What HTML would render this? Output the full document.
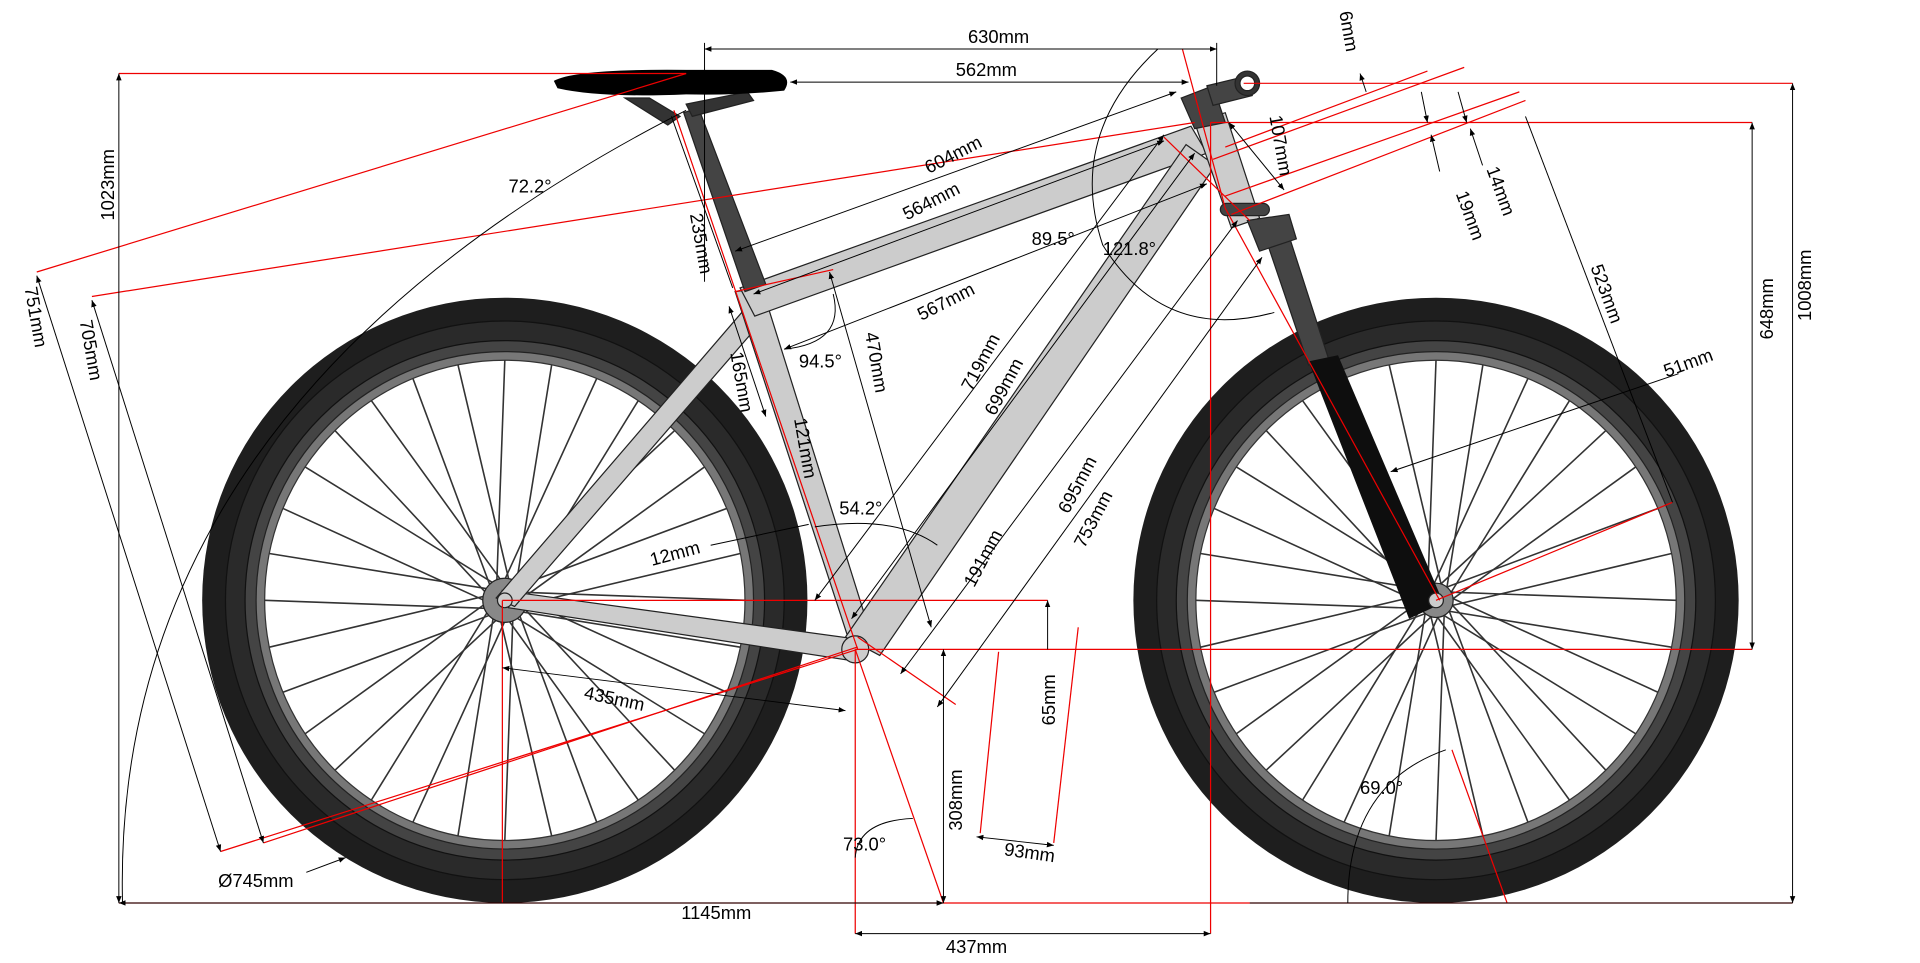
<!DOCTYPE html>
<html><head><meta charset="utf-8"><style>
html,body{margin:0;padding:0;background:#fff;overflow:hidden}
svg{display:block}
text{font-family:"Liberation Sans",sans-serif;font-size:15px;fill:#000}
</style></head><body>
<svg id="s" width="1920" height="963" viewBox="0 0 1567 786" preserveAspectRatio="none" xmlns="http://www.w3.org/2000/svg">
<defs>
<marker id="a" viewBox="0 0 10 10" refX="10" refY="5" markerWidth="7" markerHeight="7" orient="auto-start-reverse"><path d="M0,1 L10,5 L0,9z" fill="#000"/></marker>
</defs>
<g id="wheels">
<circle cx="412" cy="490" r="247" fill="#1e1e1e"/>
<circle cx="412" cy="490" r="228" fill="#2a2a2a" stroke="#111" stroke-width="1"/>
<circle cx="412" cy="490" r="212" fill="#444" stroke="#111"/>
<circle cx="412" cy="490" r="203" fill="#777" stroke="#222"/>
<circle cx="412" cy="490" r="196" fill="#fff" stroke="#333"/>
<circle cx="1172" cy="490" r="247" fill="#1e1e1e"/>
<circle cx="1172" cy="490" r="228" fill="#2a2a2a" stroke="#111" stroke-width="1"/>
<circle cx="1172" cy="490" r="212" fill="#444" stroke="#111"/>
<circle cx="1172" cy="490" r="203" fill="#777" stroke="#222"/>
<circle cx="1172" cy="490" r="196" fill="#fff" stroke="#333"/>
<g id="spokes" stroke="#333" stroke-width="1.3"></g>
<circle cx="412" cy="490" r="18" fill="#888" stroke="#222"/>
<circle cx="1172" cy="490" r="14" fill="#888" stroke="#222"/>
</g>
<g stroke="#222" stroke-width="1" fill="#ccc">
<polygon points="410,482 415,496 700,540 702,522"/>
<polygon points="405,488 420,495 622,262 608,252"/>
<polygon points="600,238 622,235 712,522 694,526"/>
<polygon points="604,235 616,258 985,125 972,103"/>
<polygon points="968,118 992,135 718,535 690,520"/>
<polygon points="975,100 1000,92 1028,178 1005,186"/>
</g>
<g stroke="#222" fill="#444">
<polygon points="558,92 570,88 625,232 608,238"/>
<polygon points="1028,180 1048,180 1085,295 1068,298"/>
<polygon points="1018,180 1052,175 1058,195 1028,205"/>
<rect x="996" y="166" width="40" height="10" rx="5"/>
<polygon points="964,80 990,70 1000,100 975,105"/>
<polygon points="985,70 1018,62 1022,78 990,86"/>
<circle cx="1018" cy="68" r="10" fill="#333"/>
<circle cx="1018" cy="68" r="6" fill="#fff"/>
<polygon points="510,80 530,80 555,95 545,102" fill="#333"/>
<polygon points="560,85 610,75 615,82 565,95" fill="#333"/>
</g>
<polygon points="1068,295 1092,290 1178,492 1150,505" fill="#0e0e0e"/>
<path d="M452,66 Q470,56 560,57 L630,57 Q648,62 640,74 Q600,78 560,77 Q490,80 455,72 Z" fill="#000"/>
<circle cx="698" cy="530" r="11" fill="#ccc" stroke="#222"/>
<circle cx="412" cy="490" r="6" fill="#ccc" stroke="#222"/>
<circle cx="1172" cy="490" r="6" fill="#ccc" stroke="#222"/>
<g stroke="#e00" stroke-width="1" fill="none">
<line x1="97" y1="737" x2="1463" y2="737"/>
<line x1="698" y1="530" x2="1430" y2="530"/>
<line x1="988" y1="100" x2="988" y2="762"/>
<line x1="988" y1="100" x2="1430" y2="100"/>
<line x1="1015" y1="68" x2="1463" y2="68"/>
<line x1="97" y1="60" x2="560" y2="60"/>
<line x1="30" y1="222" x2="560" y2="60"/>
<line x1="75" y1="242" x2="975" y2="100"/>
<line x1="180" y1="695" x2="700" y2="530"/>
<line x1="215" y1="688" x2="700" y2="528"/>
<line x1="698" y1="530" x2="770" y2="737"/>
<line x1="698" y1="530" x2="698" y2="762"/>
<line x1="550" y1="90" x2="700" y2="530"/>
<line x1="965" y1="40" x2="1000" y2="170"/>
<line x1="410" y1="490" x2="410" y2="737"/>
<line x1="410" y1="490" x2="855" y2="490"/>
<line x1="1000" y1="170" x2="1175" y2="490"/>
<line x1="1000" y1="120" x2="1165" y2="58"/>
<line x1="990" y1="130" x2="1195" y2="55"/>
<line x1="1000" y1="160" x2="1240" y2="75"/>
<line x1="1005" y1="175" x2="1245" y2="82"/>
<line x1="1172" y1="490" x2="1365" y2="410"/>
<line x1="1185" y1="612" x2="1230" y2="737"/>
<line x1="800" y1="680" x2="815" y2="532"/>
<line x1="860" y1="688" x2="880" y2="512"/>
<line x1="700" y1="520" x2="780" y2="575"/>
<line x1="600" y1="238" x2="680" y2="220"/>
<line x1="950" y1="112" x2="1020" y2="180"/>
</g>
<g stroke="#000" stroke-width="0.8" fill="none">
<line x1="575" y1="40" x2="993" y2="40" marker-start="url(#a)" marker-end="url(#a)"/>
<line x1="575" y1="35" x2="575" y2="230"/>
<line x1="993" y1="35" x2="993" y2="70"/>
<line x1="645" y1="67" x2="970" y2="67" marker-start="url(#a)" marker-end="url(#a)"/>
<line x1="97" y1="60" x2="97" y2="737" marker-start="url(#a)" marker-end="url(#a)"/>
<line x1="1463" y1="68" x2="1463" y2="737" marker-start="url(#a)" marker-end="url(#a)"/>
<line x1="1430" y1="100" x2="1430" y2="530" marker-start="url(#a)" marker-end="url(#a)"/>
<line x1="97" y1="737" x2="770" y2="737" marker-start="url(#a)" marker-end="url(#a)"/>
<line x1="1020" y1="737" x2="1463" y2="737"/>
<line x1="698" y1="762" x2="988" y2="762" marker-start="url(#a)" marker-end="url(#a)"/>
<line x1="770" y1="530" x2="770" y2="737" marker-start="url(#a)" marker-end="url(#a)"/>
<line x1="855" y1="530" x2="855" y2="490" marker-end="url(#a)"/>
<line x1="30" y1="225" x2="180" y2="695" marker-start="url(#a)" marker-end="url(#a)"/>
<line x1="75" y1="245" x2="215" y2="688" marker-start="url(#a)" marker-end="url(#a)"/>
<line x1="600" y1="205" x2="960" y2="75" marker-start="url(#a)" marker-end="url(#a)"/>
<line x1="615" y1="240" x2="950" y2="115" marker-start="url(#a)" marker-end="url(#a)"/>
<line x1="640" y1="285" x2="985" y2="150" marker-start="url(#a)" marker-end="url(#a)"/>
<line x1="665" y1="490" x2="950" y2="110" marker-start="url(#a)" marker-end="url(#a)"/>
<line x1="695" y1="505" x2="975" y2="125" marker-start="url(#a)" marker-end="url(#a)"/>
<line x1="735" y1="550" x2="1010" y2="180" marker-start="url(#a)" marker-end="url(#a)"/>
<line x1="765" y1="577" x2="1030" y2="210" marker-start="url(#a)" marker-end="url(#a)"/>
<line x1="677" y1="222" x2="760" y2="512" marker-start="url(#a)" marker-end="url(#a)"/>
<line x1="595" y1="250" x2="625" y2="340" marker-start="url(#a)" marker-end="url(#a)"/>
<line x1="548" y1="95" x2="598" y2="235"/>
<line x1="410" y1="545" x2="690" y2="580" marker-start="url(#a)" marker-end="url(#a)"/>
<line x1="797" y1="683" x2="860" y2="690" marker-start="url(#a)" marker-end="url(#a)"/>
<line x1="1245" y1="95" x2="1365" y2="410"/>
<line x1="1160" y1="75" x2="1165" y2="100" marker-end="url(#a)"/>
<line x1="1190" y1="75" x2="1197" y2="100" marker-end="url(#a)"/>
<line x1="1175" y1="140" x2="1168" y2="110" marker-end="url(#a)"/>
<line x1="1210" y1="135" x2="1200" y2="105" marker-end="url(#a)"/>
<line x1="1003" y1="100" x2="1048" y2="155" marker-start="url(#a)" marker-end="url(#a)"/>
<line x1="1115" y1="75" x2="1110" y2="60" marker-end="url(#a)"/>
<line x1="1370" y1="305" x2="1135" y2="385" marker-end="url(#a)"/>
<line x1="580" y1="445" x2="660" y2="428"/>
<line x1="250" y1="712" x2="282" y2="700" marker-end="url(#a)"/>
<path d="M100,737 Q90,330 560,90"/>
<path d="M945,40 Q870,110 900,200 Q950,280 1040,255"/>
<path d="M640,285 Q690,280 680,240"/>
<path d="M665,430 Q730,420 765,445"/>
<path d="M698,700 Q700,670 745,668"/>
<path d="M1100,737 Q1100,640 1180,612"/>
</g>
<text x="790" y="35">630mm</text>
<text x="780" y="62">562mm</text>
<text transform="translate(93,180) rotate(-90)">1023mm</text>
<text transform="translate(1478,262) rotate(-90)">1008mm</text>
<text transform="translate(1447,277) rotate(-90)">648mm</text>
<text x="556" y="750">1145mm</text>
<text x="772" y="778">437mm</text>
<text transform="translate(20,235) rotate(80)">751mm</text>
<text transform="translate(65,262) rotate(80)">705mm</text>
<text x="415" y="157">72.2°</text>
<text transform="translate(758,142) rotate(-27)">604mm</text>
<text transform="translate(740,180) rotate(-27)">564mm</text>
<text transform="translate(752,262) rotate(-27)">567mm</text>
<text x="842" y="200">89.5°</text>
<text x="900" y="208">121.8°</text>
<text x="652" y="300">94.5°</text>
<text transform="translate(706,272) rotate(80)">470mm</text>
<text transform="translate(596,288) rotate(80)">165mm</text>
<text transform="translate(648,342) rotate(80)">121mm</text>
<text transform="translate(563,175) rotate(80)">235mm</text>
<text transform="translate(793,320) rotate(-62)">719mm</text>
<text transform="translate(812,340) rotate(-62)">699mm</text>
<text transform="translate(872,420) rotate(-62)">695mm</text>
<text transform="translate(885,448) rotate(-62)">753mm</text>
<text transform="translate(795,480) rotate(-62)">191mm</text>
<text x="685" y="420">54.2°</text>
<text transform="translate(532,462) rotate(-15)">12mm</text>
<text transform="translate(476,570) rotate(12)">435mm</text>
<text transform="translate(861,592) rotate(-90)">65mm</text>
<text transform="translate(785,678) rotate(-90)">308mm</text>
<text transform="translate(819,698) rotate(8)">93mm</text>
<text x="688" y="694">73.0°</text>
<text x="1110" y="648">69.0°</text>
<text x="178" y="724">Ø745mm</text>
<text transform="translate(1360,308) rotate(-20)">51mm</text>
<text transform="translate(1298,218) rotate(70)">523mm</text>
<text transform="translate(1188,158) rotate(70)">19mm</text>
<text transform="translate(1213,138) rotate(70)">14mm</text>
<text transform="translate(1036,95) rotate(80)">107mm</text>
<text transform="translate(1093,10) rotate(80)">6mm</text>
</svg>
<script>
var g=document.getElementById('spokes'),ns='http://www.w3.org/2000/svg';
[[412,490],[1172,490]].forEach(function(c){for(var i=0;i<32;i++){var a=i*Math.PI*2/32,off=(i%2?1:-1)*0.35;var l=document.createElementNS(ns,'line');l.setAttribute('x1',c[0]+8*Math.cos(a+off*3));l.setAttribute('y1',c[1]+8*Math.sin(a+off*3));l.setAttribute('x2',c[0]+196*Math.cos(a));l.setAttribute('y2',c[1]+196*Math.sin(a));g.appendChild(l);}});
</script>
</body></html>
